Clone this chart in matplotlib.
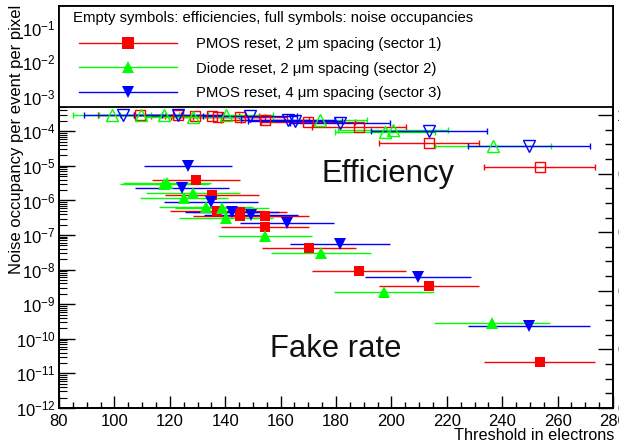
import matplotlib
matplotlib.use("Agg")
import matplotlib.pyplot as plt
import numpy as np
from matplotlib.lines import Line2D
from matplotlib.patches import Rectangle
from matplotlib.ticker import MultipleLocator, LogLocator, FuncFormatter, FixedLocator, NullFormatter

plt.rcParams['font.family'] = ['Liberation Sans', 'DejaVu Sans']
plt.rcParams['mathtext.fontset'] = 'custom'
plt.rcParams['mathtext.rm'] = 'Liberation Sans'
plt.rcParams['mathtext.it'] = 'Liberation Sans:italic'
plt.rcParams['mathtext.bf'] = 'Liberation Sans:bold'

# ---------------- data ----------------
# noise occupancies (full symbols), left log axis
thr_red_noise = [129.5, 135.3, 137.0, 145.3, 145.3, 154.4, 154.4, 170.3, 188.3, 213.6, 253.6]
occ_red_noise = [4.0e-6, 1.4e-6, 5.0e-7, 4.7e-7, 3.6e-7, 3.5e-7, 1.7e-7, 4.2e-8, 9.0e-9, 3.4e-9, 2.2e-11]
err_red_noise = [16, 17, 17, 17, 17, 16, 16, 17, 17, 18, 20]

thr_green_noise = [118.0, 119.0, 125.1, 128.4, 133.0, 138.8, 140.3, 154.4, 174.6, 197.3, 236.3]
occ_green_noise = [3.0e-6, 3.3e-6, 1.2e-6, 1.7e-6, 6.4e-7, 6.0e-7, 3.2e-7, 9.3e-8, 3.0e-8, 2.2e-9, 2.8e-10]
err_green_noise = [16, 16, 16, 17, 17, 17, 17, 17, 18, 18, 21]

thr_blue_noise = [126.6, 124.4, 134.9, 142.5, 149.3, 162.3, 181.4, 209.6, 249.7]
occ_blue_noise = [1.0e-5, 2.3e-6, 9.0e-7, 4.7e-7, 3.8e-7, 2.2e-7, 5.5e-8, 6.0e-9, 2.3e-10]
err_blue_noise = [16, 17, 17, 17, 17, 17, 18, 19, 22]

# efficiencies (empty symbols), right linear axis
thr_red_eff = [109.2, 123.0, 129.1, 135.2, 137.4, 145.3, 154.4, 169.9, 188.3, 213.6, 253.6]
eff_red = [0.999, 0.999, 0.997, 0.997, 0.994, 0.994, 0.983, 0.976, 0.959, 0.904, 0.823]
err_red_eff = [15, 16, 16, 17, 17, 17, 16, 17, 17, 18, 20]

thr_green_eff = [99.1, 109.6, 117.9, 128.4, 140.3, 174.2, 197.7, 200.6, 236.7]
eff_green = [0.999, 0.999, 0.999, 0.993, 0.999, 0.983, 0.942, 0.949, 0.894]
err_green_eff = [14, 15, 16, 17, 17, 17, 18, 20, 21]

thr_blue_eff = [103.2, 123.0, 149.0, 162.7, 165.2, 181.4, 213.6, 249.7]
eff_blue = [0.999, 0.999, 0.997, 0.983, 0.980, 0.973, 0.945, 0.894]
err_blue_eff = [14, 16, 17, 17, 17, 18, 21, 22]

labels = ["PMOS reset, 2 \u03bcm spacing (sector 1)",
          "Diode reset, 2 \u03bcm spacing (sector 2)",
          "PMOS reset, 4 \u03bcm spacing (sector 3)"]
legend_title = "Empty symbols: efficiencies, full symbols: noise occupancies"

RED = '#ff0000'
GREEN = '#00ff00'
BLUE = '#0000ff'

# ---------------- figure ----------------
W, H = 619, 445
fig = plt.figure(figsize=(W / 100, H / 100), dpi=100)
ax = fig.add_axes([59 / W, 37 / H, 554 / W, 402 / H])
ax.set_yscale('log')
ax.set_ylim(1e-12, 0.42)
ax.set_xlim(80, 280)
ax2 = ax.twinx()
ax2.set_ylim(0, 1.372)

ekw = dict(capsize=2, elinewidth=1, capthick=1, linestyle='none', alpha=1)

ax.errorbar(thr_red_noise, occ_red_noise, xerr=err_red_noise, fmt='s', color=RED,
            ms=7.5, mew=0, **ekw)
ax.errorbar(thr_green_noise, occ_green_noise, xerr=err_green_noise, fmt='^', color=GREEN,
            ms=8, mew=0, **ekw)
ax.errorbar(thr_blue_noise, occ_blue_noise, xerr=err_blue_noise, fmt='v', color=BLUE,
            ms=8, mew=0, **ekw)

ax2.errorbar(thr_red_eff, eff_red, xerr=err_red_eff, fmt='s', color=RED, mfc='none',
             mec=RED, ms=7.5, mew=1, **ekw)
ax2.errorbar(thr_green_eff, eff_green, xerr=err_green_eff, fmt='^', color=GREEN, mfc='none',
             mec=GREEN, ms=8, mew=1, **ekw)
ax2.errorbar(thr_blue_eff, eff_blue, xerr=err_blue_eff, fmt='v', color=BLUE, mfc='none',
             mec=BLUE, ms=8, mew=1, **ekw)

# axes styling
for a in (ax, ax2):
    for s in a.spines.values():
        s.set_linewidth(1.3)

ax.xaxis.set_major_locator(MultipleLocator(20))
ax.xaxis.set_minor_locator(MultipleLocator(5))
ax.tick_params(axis='x', which='major', direction='in', length=9, width=1, labelsize=12, pad=4, top=False)
ax.tick_params(axis='x', which='minor', direction='in', length=4.5, width=1, top=False)

ax.yaxis.set_major_locator(LogLocator(base=10, numticks=20))
ax.yaxis.set_minor_locator(LogLocator(base=10, subs=np.arange(2, 10), numticks=20))
ax.yaxis.set_minor_formatter(NullFormatter())
ax.yaxis.set_major_formatter(FuncFormatter(lambda v, p: r'$10^{%d}$' % int(round(np.log10(v)))))
ax.tick_params(axis='y', which='major', direction='in', length=11.5, width=1, labelsize=12, pad=2.5, right=False)
ax.tick_params(axis='y', which='minor', direction='in', length=5.5, width=0.8, right=False)

ax2.yaxis.set_major_locator(FixedLocator([0, 0.2, 0.4, 0.6, 0.8, 1.0]))
ax2.yaxis.set_minor_locator(FixedLocator(np.arange(0, 1.001, 0.05)))
ax2.yaxis.set_major_formatter(FuncFormatter(lambda v, p: '%g' % v))
ax2.tick_params(axis='y', which='major', direction='in', length=11, width=1, labelsize=12, pad=3)
ax2.tick_params(axis='y', which='minor', direction='in', length=5.5, width=1)

# legend box covering top of the frame
y0 = (408 - 107) / 402
ax2.add_patch(Rectangle((0, y0), 1, 1 - y0, transform=ax2.transAxes, facecolor='white',
                        edgecolor='black', lw=1.3, zorder=10, clip_on=False))
ax2.text((73 - 59) / 554, (408 - 18) / 402, legend_title, transform=ax2.transAxes,
         fontsize=10.7, ha='left', va='center', zorder=12)
handles = [Line2D([], [], color=RED, marker='s', ms=8, lw=1, mew=0),
           Line2D([], [], color=GREEN, marker='^', ms=8, lw=1, mew=0),
           Line2D([], [], color=BLUE, marker='v', ms=8, lw=1, mew=0)]
leg = ax2.legend(handles, labels, loc='upper left', bbox_to_anchor=((79 - 59) / 554, (408 - 37) / 402),
                 frameon=False, fontsize=10.7, handlelength=6.6, handletextpad=1.3,
                 labelspacing=0.72, borderpad=0, borderaxespad=0)
leg.set_zorder(12)

# annotations
ax.text(174.9, 10 ** -5.46, 'Efficiency', fontsize=22.3, ha='left', va='baseline', color='#111111')
ax.text(156.2, 10 ** -10.52, 'Fake rate', fontsize=22.3, ha='left', va='baseline', color='#111111')

fig.text(614 / W, 1 - 436 / H, 'Threshold in electrons', fontsize=11.7, ha='right', va='center')
fig.text(17 / W, 1 - 5 / H, 'Noise occupancy per event per pixel', fontsize=12,
         rotation=90, ha='center', va='top')

fig.savefig('out.png', dpi=100)
